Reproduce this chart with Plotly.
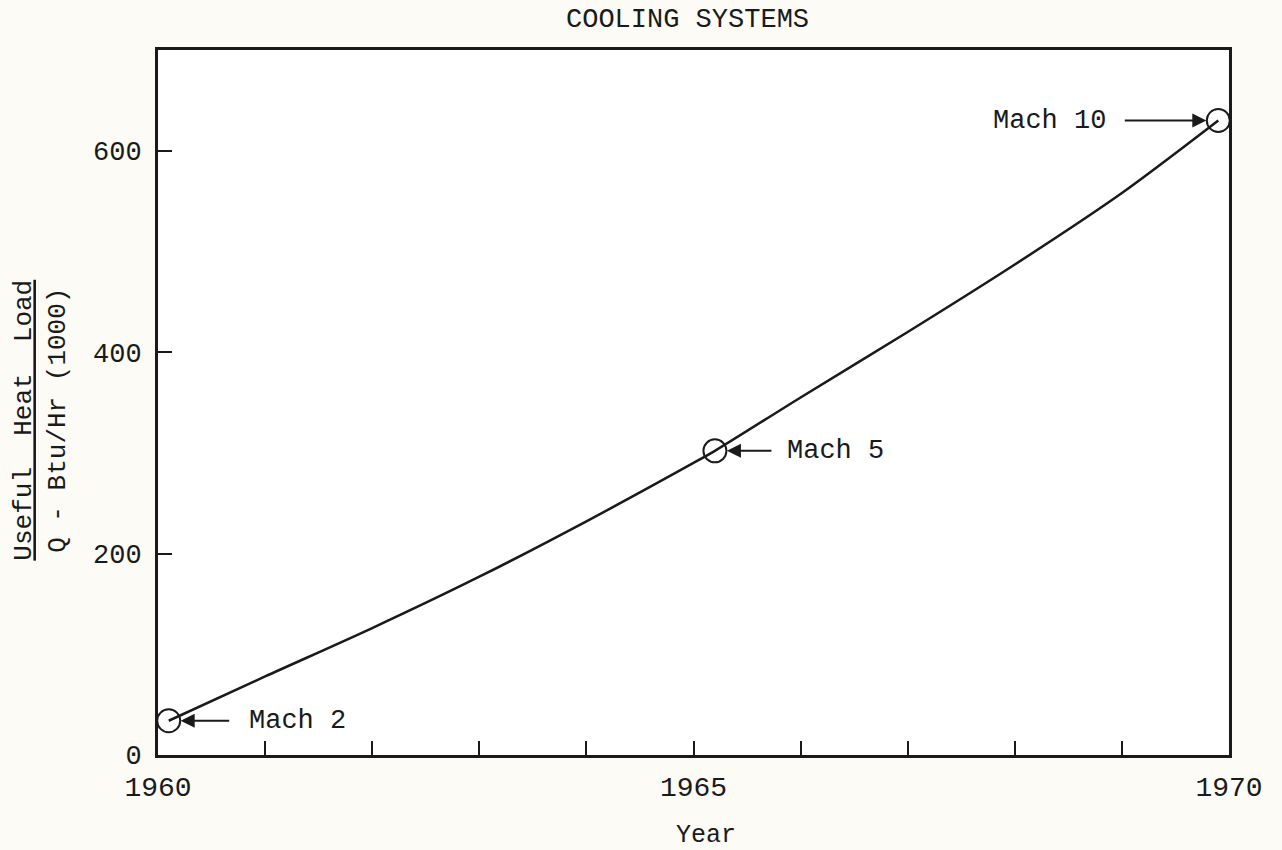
import plotly.graph_objects as go

# Curve data
years = [1960.1, 1961, 1962, 1963, 1964, 1965, 1965.2, 1966, 1967, 1968, 1969, 1969.9]
heat_load = [34, 78, 126, 177, 232, 290, 302, 355, 420, 487, 558, 630]

# Marked points
mach_years = [1960.1, 1965.2, 1969.9]
mach_loads = [34, 302, 630]
mach_labels = ["Mach 2", "Mach 5", "Mach 10"]

x_tickvals = list(range(1960, 1971))
x_ticktext = ["1960", "", "", "", "", "1965", "", "", "", "", "1970"]
y_tickvals = [0, 200, 400, 600]
y_ticktext = ["0", "200", "400", "600"]

FONT = "Liberation Mono, Courier New, monospace"
INK = "#1a1a1a"

fig = go.Figure()
fig.add_trace(go.Scatter(x=years, y=heat_load, mode="lines",
                         line=dict(color=INK, width=2.5, shape="spline", smoothing=0.8),
                         hoverinfo="skip", showlegend=False))
fig.add_trace(go.Scatter(x=mach_years, y=mach_loads, mode="markers",
                         marker=dict(symbol="circle-open", size=23, color=INK, line=dict(width=2, color=INK)),
                         showlegend=False))

# arrows + labels
arrow_ax = [62, 58, -95]
text_shift = [78, 70, -110]
anchors = ["left", "left", "right"]
for xv, yv, lab, ax, xs, anc in zip(mach_years, mach_loads, mach_labels, arrow_ax, text_shift, anchors):
    fig.add_annotation(x=xv, y=yv, ax=ax, ay=0, text="", showarrow=True,
                       arrowhead=2, arrowsize=1.4, arrowwidth=2, arrowcolor=INK,
                       standoff=12)
    fig.add_annotation(x=xv, y=yv, text=lab, showarrow=False, xanchor=anc,
                       xshift=xs, font=dict(family=FONT, size=27, color=INK))

# title
fig.add_annotation(xref="paper", yref="paper", x=0.494, y=1.0, yshift=30, text="COOLING SYSTEMS",
                   showarrow=False, font=dict(family=FONT, size=27, color=INK),
                   xanchor="center", yanchor="middle")
# x axis title
fig.add_annotation(xref="paper", yref="paper", x=0.512, y=0, yshift=-80, text="Year",
                   showarrow=False, font=dict(family=FONT, size=25, color=INK),
                   xanchor="center", yanchor="middle")
# y axis title (fraction)
fig.add_annotation(xref="paper", yref="y", x=0, xshift=-117, y=332,
                   text="<u>Useful  Heat  Load</u><br>Q - Btu/Hr (1000)",
                   textangle=-90, showarrow=False, align="center",
                   xanchor="center", yanchor="middle",
                   font=dict(family=FONT, size=26, color=INK))

fig.update_xaxes(range=[1960, 1970], tickvals=x_tickvals, ticktext=x_ticktext,
                 ticks="inside", ticklen=14, tickwidth=2, tickcolor=INK,
                 showline=True, linewidth=3, linecolor=INK, mirror=True,
                 showgrid=False, zeroline=False, ticklabelstandoff=4,
                 tickfont=dict(family=FONT, size=28, color=INK))
fig.update_yaxes(range=[0, 700], tickvals=y_tickvals, ticktext=y_ticktext,
                 ticks="inside", ticklen=14, tickwidth=2, tickcolor=INK,
                 showline=True, linewidth=3, linecolor=INK, mirror=True,
                 showgrid=False, zeroline=False, ticklabelstandoff=8,
                 tickfont=dict(family=FONT, size=27, color=INK))

fig.update_layout(width=1282, height=850,
                  margin=dict(l=158, r=53, t=50, b=95),
                  paper_bgcolor="#fcfbf6", plot_bgcolor="#ffffff",
                  font=dict(family=FONT, color=INK))

fig.write_html("out.html", config={"displayModeBar": False},
               post_script="document.body.style.margin='0';document.body.style.overflow='hidden';")
